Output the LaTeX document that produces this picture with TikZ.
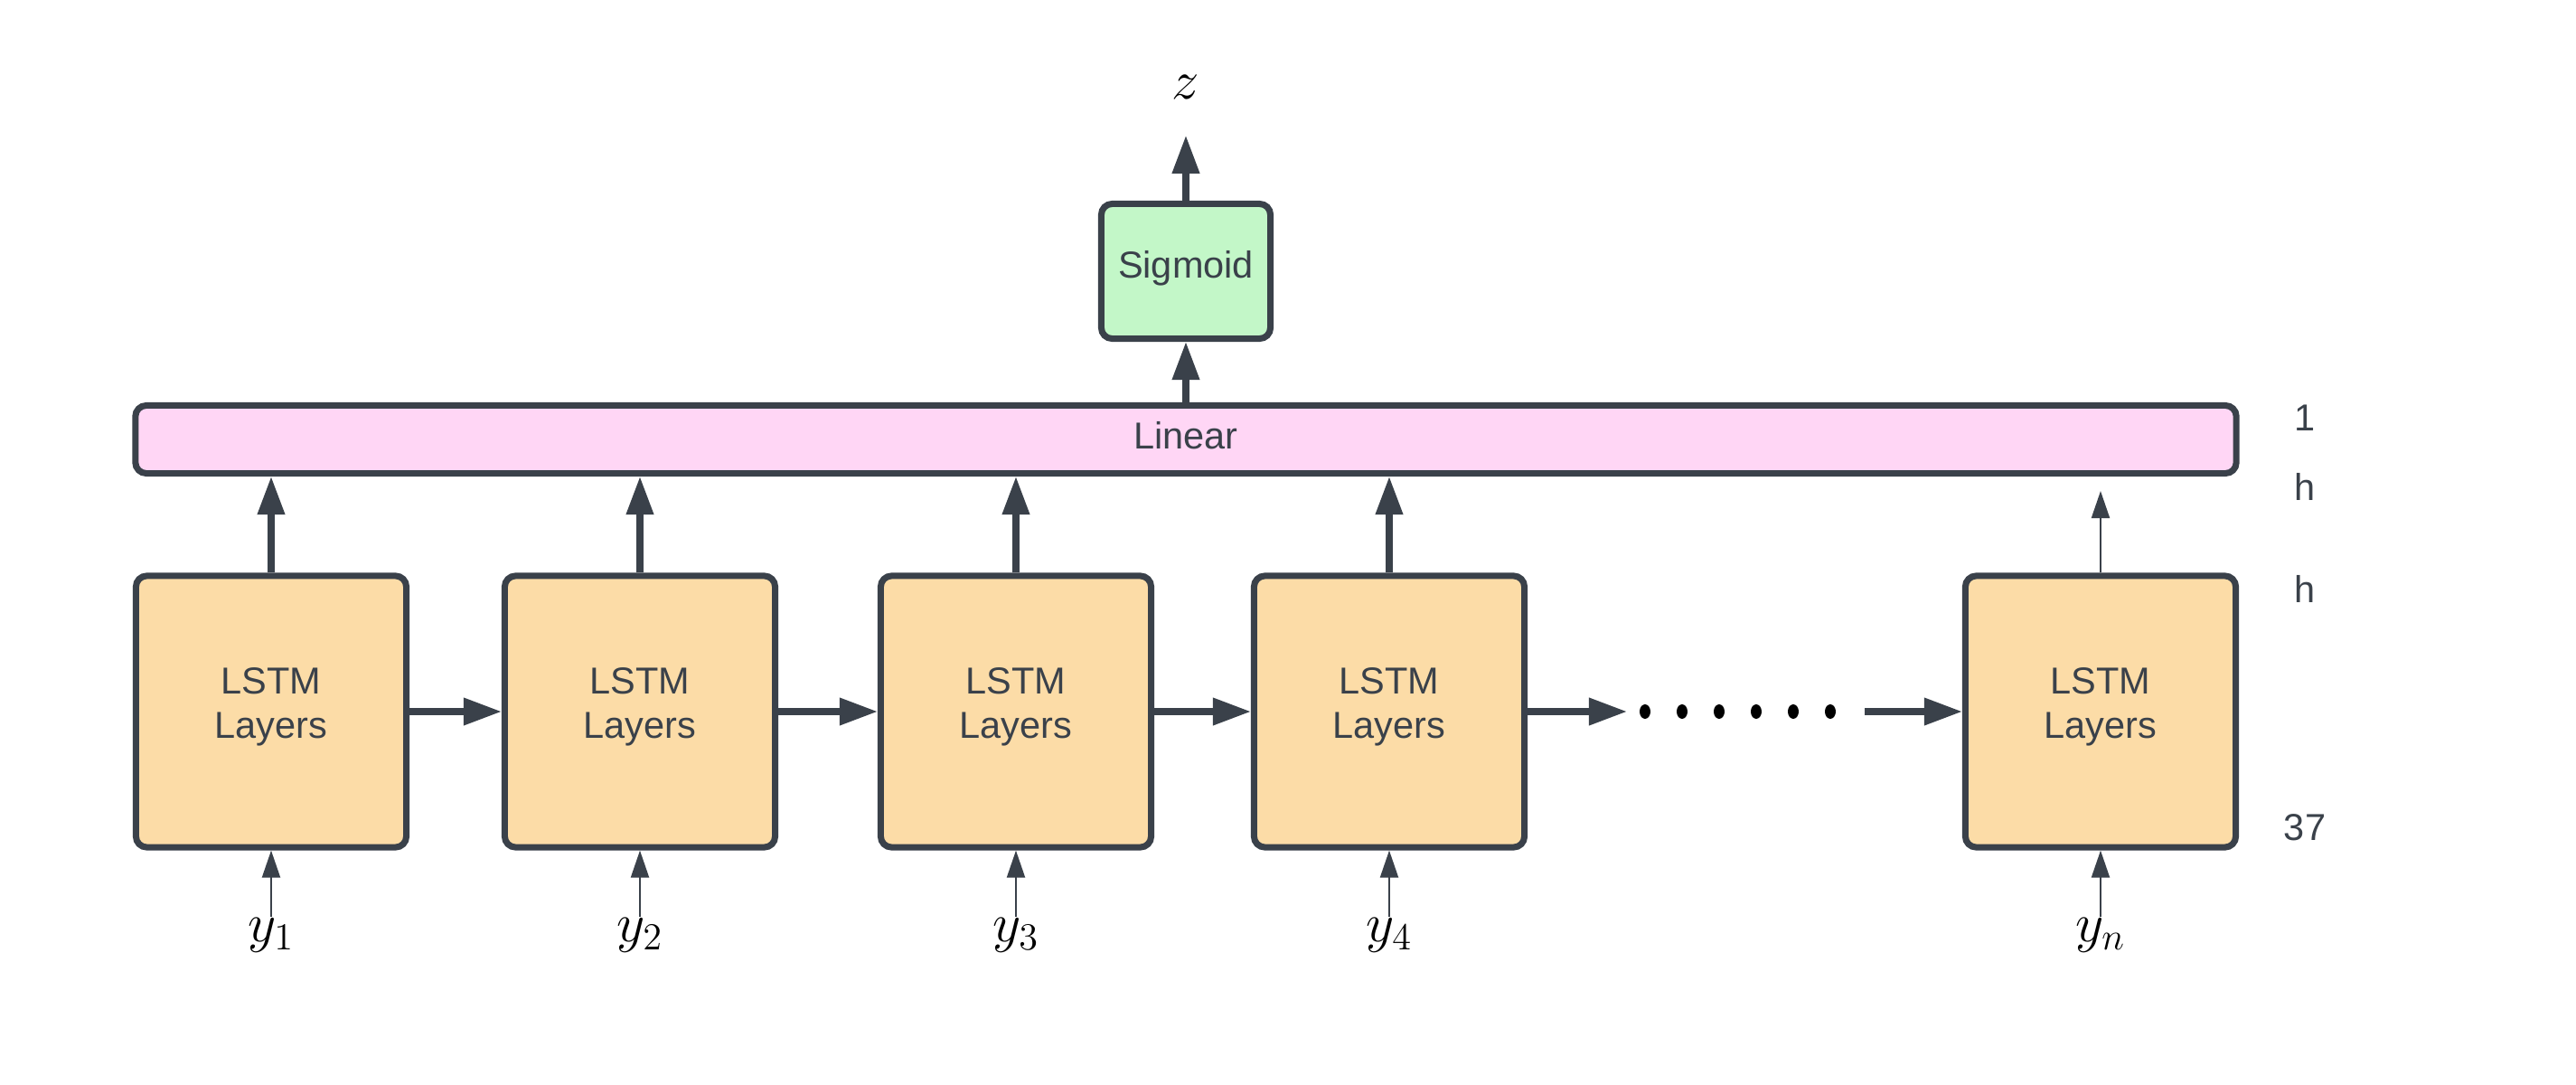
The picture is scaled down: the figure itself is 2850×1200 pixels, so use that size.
\documentclass[tikz,border=0pt]{standalone}
\usepackage[no-math]{fontspec}
\setmainfont{Liberation Sans}
\usetikzlibrary{arrows.meta,positioning}

\definecolor{edgegray}{HTML}{3A414A}
\definecolor{lstmfill}{HTML}{FCDCA7}
\definecolor{linearfill}{HTML}{FFD6F5}
\definecolor{sigfill}{HTML}{C3F7C8}

\newcommand{\lstmtext}{LSTM\\Layers\rule[-0.19cm]{0pt}{0pt}}

\begin{document}
\begin{tikzpicture}[x=0.01cm,y=-0.01cm,
	block/.style={draw=edgegray,line width=2pt,rounded corners=1.2mm,align=center,
		text=edgegray,font=\fontsize{11.8}{14.2}\selectfont,inner sep=0pt},
	lstmbox/.style={block,fill=lstmfill,minimum width=2.99cm,minimum height=3cm},
	flowarrow/.style={draw=edgegray,line width=2pt,-{Triangle[length=4.2mm,width=2.9mm]}},
	feedarrow/.style={draw=edgegray,line width=0.6pt,-{Triangle[length=3mm,width=2mm]}},
	sizelabel/.style={text=edgegray,font=\fontsize{11.8}{14.2}\selectfont,inner sep=0pt},
	mathlabel/.style={font=\fontsize{16.5}{19}\selectfont,inner sep=0pt}]
	\useasboundingbox (0,0) rectangle (2850,1200);
	% lstm chain
	\node[lstmbox] (lstm1) at (300,787) {\lstmtext};
	\node[lstmbox] (lstm2) at (708,787) {\lstmtext};
	\node[lstmbox] (lstm3) at (1124,787) {\lstmtext};
	\node[lstmbox] (lstm4) at (1537,787) {\lstmtext};
	\node[lstmbox] (lstmn) at (2324,787) {\lstmtext};
	\node[block,fill=linearfill,minimum width=23.23cm,minimum height=0.75cm,
		text height=0.3cm,text depth=0.1cm] (linear) at (1312,486) {Linear};
	\node[block,fill=sigfill,minimum width=1.87cm,minimum height=1.49cm,
		text height=0.24cm,text depth=0.1cm] (sigmoid) at (1312,300) {Sigmoid};
	\node[mathlabel,font=\fontsize{17}{20}\selectfont] (z) at (1312,96) {$z$};
	% inputs
	\node[mathlabel] (y1) at (300,1034) {$y_1$};
	\node[mathlabel] (y2) at (708,1034) {$y_2$};
	\node[mathlabel] (y3) at (1124,1034) {$y_3$};
	\node[mathlabel] (y4) at (1537,1034) {$y_4$};
	\node[mathlabel] (yn) at (2324,1034) {$y_n$};
	\foreach \k in {1,2,3,4,n}
		\draw[feedarrow] (y\k.north) -- (lstm\k.south);
	% recurrence
	\draw[flowarrow] (lstm1.east) -- (lstm2.west);
	\draw[flowarrow] (lstm2.east) -- (lstm3.west);
	\draw[flowarrow] (lstm3.east) -- (lstm4.west);
	\coordinate (gapL) at (1800,787);
	\coordinate (gapR) at (2063,787);
	\draw[flowarrow] (lstm4.east) -- (gapL);
	\foreach \i in {0,...,5}
		\fill[black] (1820+41*\i,787) ellipse (6 and 8);
	\draw[flowarrow] (gapR) -- (lstmn.west);
	% outputs
	\foreach \k in {1,2,3,4}
		\draw[flowarrow] (lstm\k.north) -- (lstm\k.north |- linear.south);
	\draw[feedarrow,shorten >=0.16cm] (lstmn.north) -- (lstmn.north |- linear.south);
	\draw[flowarrow] (linear.north) -- (sigmoid.south);
	\draw[flowarrow,shorten >=0.4cm] (sigmoid.north) -- (z.south);
	% sizes
	\node[sizelabel] (dimout) at (2550,462) {1};
	\node[sizelabel] (dimlin) at (2550,538) {h};
	\node[sizelabel] (dimhid) at (2550,651) {h};
	\node[sizelabel] (dimin) at (2550,915) {37};
\end{tikzpicture}
\end{document}
